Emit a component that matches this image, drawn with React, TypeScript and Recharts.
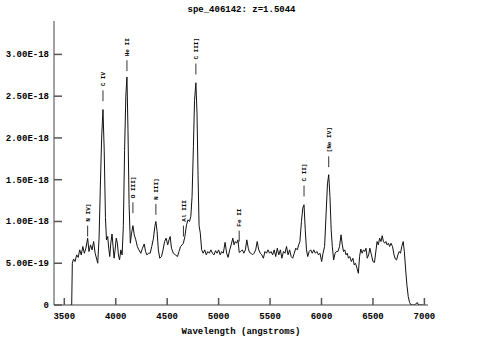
import { LineChart, Line, XAxis, YAxis, ReferenceLine } from 'recharts'

// spectrum samples, wavelength in angstroms and flux in units of 1e-18
const waves = [
  3560, 3572, 3578, 3590, 3605, 3620, 3635, 3650, 3665, 3680, 3695, 3710, 3727, 3740, 3755, 3770,
  3785, 3800, 3815, 3825, 3838, 3850, 3863, 3876, 3888, 3900, 3910, 3922, 3932, 3942, 3952, 3964,
  3974, 3984, 3994, 4005, 4016, 4026, 4037, 4050, 4062, 4074, 4086, 4098, 4109, 4119, 4130, 4142,
  4154, 4167, 4180, 4195, 4210, 4225, 4244, 4260, 4277, 4290, 4303, 4320, 4335, 4350, 4367, 4380,
  4390, 4402, 4414, 4428, 4445, 4460, 4475, 4490, 4505, 4518, 4529, 4542, 4560, 4580, 4600, 4615,
  4630, 4645, 4658, 4672, 4688, 4703, 4717, 4730, 4742, 4755, 4766, 4779, 4790, 4800, 4810, 4822,
  4835, 4850, 4865, 4880, 4895, 4910, 4925, 4940, 4955, 4970, 4985, 5000, 5015, 5030, 5045, 5063,
  5078, 5092, 5108, 5122, 5138, 5150, 5162, 5175, 5188, 5200, 5215, 5230, 5245, 5260, 5274, 5288,
  5300, 5315, 5330, 5345, 5360, 5375, 5390, 5405, 5420, 5435, 5450, 5465, 5480, 5495, 5510, 5525,
  5540, 5555, 5570, 5585, 5600, 5615, 5630, 5645, 5660, 5675, 5690, 5705, 5720, 5735, 5750, 5765,
  5778, 5790, 5805, 5818, 5830, 5842, 5854, 5866, 5880, 5895, 5910, 5925, 5940, 5955, 5970, 5985,
  6001, 6015, 6030, 6045, 6058, 6070, 6082, 6094, 6105, 6118, 6132, 6145, 6160, 6175, 6190, 6202,
  6214, 6226, 6238, 6250, 6262, 6275, 6290, 6305, 6318, 6330, 6345, 6358, 6370, 6382, 6395, 6408,
  6420, 6432, 6445, 6458, 6470, 6485, 6500, 6515, 6530, 6540, 6552, 6565, 6578, 6590, 6602, 6614,
  6626, 6638, 6650, 6662, 6675, 6690, 6705, 6718, 6730, 6742, 6755, 6768, 6780, 6794, 6805, 6818,
  6830, 6843, 6856, 6870, 6900, 6915, 6930, 6945, 6990,
]
const flux = [
  0, 0, 0.5, 0.55, 0.52, 0.6, 0.57, 0.66, 0.6, 0.7, 0.62, 0.68, 0.8, 0.64, 0.72, 0.66,
  0.76, 0.62, 0.55, 0.5, 0.8, 1.4, 2.0, 2.34, 1.85, 1.05, 0.78, 0.82, 0.68, 0.58, 0.74, 0.85,
  0.7, 0.56, 0.66, 0.8, 0.74, 0.6, 0.54, 0.66, 0.6, 0.95, 1.85, 2.5, 2.73, 2.1, 1.2, 0.74,
  0.86, 0.95, 0.84, 0.78, 0.7, 0.66, 0.62, 0.68, 0.73, 0.64, 0.6, 0.62, 0.62, 0.7, 0.8, 0.94,
  1.0, 0.88, 0.66, 0.56, 0.58, 0.66, 0.76, 0.8, 0.72, 0.78, 0.82, 0.68, 0.62, 0.6, 0.58, 0.64,
  0.7, 0.72, 0.74, 0.82, 0.96, 1.02, 1.0, 1.06, 1.3, 1.9, 2.45, 2.66, 2.3, 1.55, 0.95, 0.86,
  0.66, 0.62, 0.66, 0.6, 0.64, 0.62, 0.66, 0.62, 0.6, 0.65, 0.62, 0.66, 0.6, 0.64, 0.62, 0.75,
  0.62, 0.57, 0.66, 0.72, 0.8, 0.72, 0.76, 0.74, 0.78, 0.63, 0.64, 0.66, 0.62, 0.66, 0.78, 0.68,
  0.63, 0.62, 0.6, 0.62, 0.66, 0.76, 0.66, 0.62, 0.6, 0.56, 0.64, 0.62, 0.66, 0.62, 0.64, 0.6,
  0.66, 0.58, 0.68, 0.6, 0.66, 0.56, 0.64, 0.62, 0.7, 0.6, 0.66, 0.58, 0.56, 0.62, 0.68, 0.66,
  0.72, 0.76, 1.0, 1.16, 1.2, 0.9, 0.66, 0.58, 0.64, 0.66, 0.62, 0.66, 0.62, 0.64, 0.6, 0.62,
  0.52, 0.62, 0.7, 1.1, 1.45, 1.56, 1.3, 0.9, 0.7, 0.54, 0.62, 0.64, 0.64, 0.7, 0.84, 0.72,
  0.64, 0.66, 0.6, 0.62, 0.56, 0.58, 0.52, 0.56, 0.48, 0.5, 0.44, 0.38, 0.58, 0.67, 0.62, 0.66,
  0.64, 0.68, 0.56, 0.6, 0.68, 0.6, 0.52, 0.51, 0.66, 0.76, 0.72, 0.8, 0.76, 0.83, 0.76, 0.74,
  0.76, 0.72, 0.74, 0.7, 0.74, 0.7, 0.6, 0.55, 0.54, 0.6, 0.64, 0.62, 0.7, 0.76, 0.64, 0.42,
  0.24, 0.1, 0.03, 0, 0, 0.01, 0.03, 0, 0,
]

// emission line identifications: label, observed wavelength, flux where the marker starts
const lineNames = ['N IV]', 'C IV', 'He II', 'O III]', 'N III]', 'Al III', 'C III]', 'Fe II', 'C II]', '[Ne IV]']
const lineWaves = [3727, 3876, 4109, 4167, 4390, 4658, 4779, 5200, 5830, 6070]
const lineLevels = [0.82, 2.44, 2.8, 1.1, 1.08, 0.82, 2.76, 0.76, 1.3, 1.65]

const xTicks = [3500, 4000, 4500, 5000, 5500, 6000, 6500, 7000]
const yTicks = [0, 0.5, 1, 1.5, 2, 2.5, 3]

const data = waves.map((w, i) => ({ wave: w, flux: flux[i] }))

const font = '"Liberation Mono", "DejaVu Sans Mono", monospace'
const tickColor = '#555'

const fmtFlux = (v: number) => (v === 0 ? '0' : (v * 1e-18).toExponential(2).toUpperCase())

function BottomTick(props: any) {
  const { x, y, payload } = props
  return (
    <g>
      <line x1={x} y1={y} x2={x} y2={y - 7} stroke={tickColor} strokeWidth={1.5} />
      <text x={x} y={y + 14} textAnchor="middle" fontFamily={font} fontWeight="bold" fontSize={9} fill="#000">
        {payload.value}
      </text>
    </g>
  )
}

function TopTick(props: any) {
  const { x, y } = props
  return <line x1={x} y1={y} x2={x} y2={y + 7} stroke={tickColor} strokeWidth={1.5} />
}

function LeftTick(props: any) {
  const { x, y, payload } = props
  return (
    <g>
      <line x1={x + 5} y1={y} x2={x + 13} y2={y} stroke={tickColor} strokeWidth={1.5} />
      <text x={x} y={y + 3} textAnchor="end" fontFamily={font} fontWeight="bold" fontSize={9} fill="#000">
        {fmtFlux(payload.value)}
      </text>
    </g>
  )
}

function RightTick(props: any) {
  const { x, y } = props
  return <line x1={x} y1={y} x2={x - 8} y2={y} stroke={tickColor} strokeWidth={1.5} />
}

function lineLabel(name: string) {
  return (props: any) => {
    const vb = props.viewBox
    const x = vb.x
    const y = vb.y - 4
    return (
      <text
        x={x}
        y={y}
        dy="0.35em"
        transform={`rotate(-90 ${x} ${y})`}
        fontFamily={font}
        fontWeight="bold"
        fontSize={6}
        fill="#000"
      >
        {name}
      </text>
    )
  }
}

export default function App() {
  return (
    <div style={{ position: 'absolute', left: 0, top: 0, width: 483, height: 358, background: '#fff' }}>
      <div
        style={{
          position: 'absolute',
          left: 0,
          width: 483,
          top: 4,
          textAlign: 'center',
          fontFamily: font,
          fontWeight: 'bold',
          fontSize: 9,
          lineHeight: '12px',
        }}
      >
        spe_406142: z=1.5044
      </div>
      <LineChart width={483} height={358} data={data} margin={{ top: 21, right: 55, bottom: 0, left: 0 }}>
        <XAxis
          dataKey="wave"
          type="number"
          domain={[3400, 7035]}
          allowDataOverflow
          ticks={xTicks}
          height={53}
          tickSize={0}
          tickMargin={0}
          tickLine={false}
          axisLine={{ stroke: '#444' }}
          tick={<BottomTick />}
          interval={0}
        />
        <XAxis
          xAxisId="top"
          orientation="top"
          type="number"
          domain={[3400, 7035]}
          allowDataOverflow
          ticks={xTicks}
          height={0}
          tickSize={0}
          tickMargin={0}
          tickLine={false}
          axisLine={{ stroke: '#444' }}
          tick={<TopTick />}
          interval={0}
        />
        <YAxis
          type="number"
          domain={[0, 3.4]}
          allowDataOverflow
          ticks={yTicks}
          width={54}
          tickSize={0}
          tickMargin={5}
          tickLine={false}
          axisLine={{ stroke: '#444' }}
          tick={<LeftTick />}
          interval={0}
        />
        <YAxis
          yAxisId="right"
          orientation="right"
          type="number"
          domain={[0, 3.4]}
          allowDataOverflow
          ticks={yTicks}
          width={0}
          tickSize={0}
          tickMargin={0}
          tickLine={false}
          axisLine={{ stroke: '#444' }}
          tick={<RightTick />}
          interval={0}
        />
        <Line
          type="linear"
          dataKey="flux"
          stroke="#111"
          strokeWidth={1}
          dot={false}
          isAnimationActive={false}
        />
        {lineNames.map((name, i) => (
          <ReferenceLine
            key={name}
            segment={[
              { x: lineWaves[i], y: lineLevels[i] },
              { x: lineWaves[i], y: lineLevels[i] + 0.13 },
            ]}
            stroke="#333"
            strokeWidth={1}
            label={lineLabel(name)}
          />
        ))}
      </LineChart>
      <div
        style={{
          position: 'absolute',
          left: 54,
          width: 374,
          top: 326,
          textAlign: 'center',
          fontFamily: font,
          fontWeight: 'bold',
          fontSize: 9,
          lineHeight: '12px',
        }}
      >
        Wavelength (angstroms)
      </div>
    </div>
  )
}
